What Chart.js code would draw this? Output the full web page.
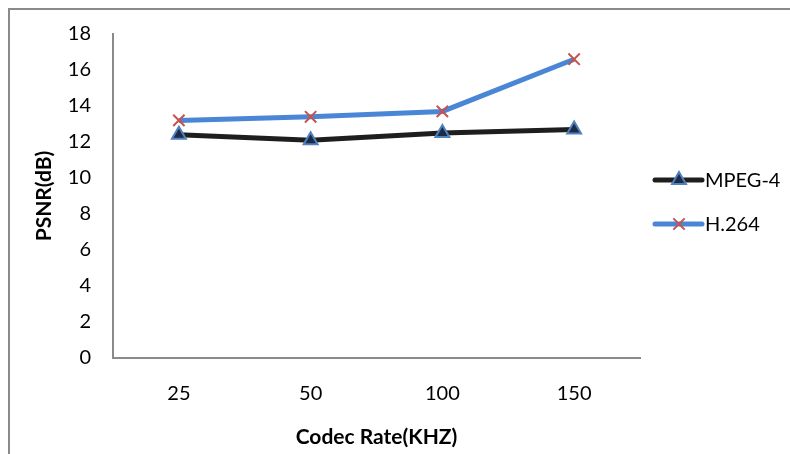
<!DOCTYPE html>
<html lang="en">
<head>
  <meta charset="UTF-8">
  <title>PSNR vs Codec Rate</title>
  <style>
    body {
      margin: 0;
      background: #fff;
      width: 790px;
      height: 454px;
      overflow: hidden;
      position: relative;
    }
    #frame {
      position: absolute;
      left: 8px;
      top: 8px;
      width: 800px;
      height: 460px;
      border-top: 2px solid #8a8a8a;
      border-left: 2px solid #8a8a8a;
    }
    #wrap {
      position: absolute;
      left: 0;
      top: 0;
      width: 790px;
      height: 454px;
    }
  </style>
  <script src="https://cdn.jsdelivr.net/npm/chart.js"></script>
</head>
<body>
  <div id="frame"></div>
  <div id="wrap"><canvas id="chartCanvas"></canvas></div>

  <script>
    const rates = ['25', '50', '100', '150'];
    const mpeg4 = [12.4, 12.1, 12.5, 12.7];
    const h264 = [13.2, 13.4, 13.7, 16.6];
    const yTicks = [0, 2, 4, 6, 8, 10, 12, 14, 16, 18];

    const FONT = 'Lato, "Open Sans", sans-serif';

    // excel-style legend: short line with the marker in the middle
    const sideLegend = {
      id: 'sideLegend',
      afterDraw(chart) {
        const ctx = chart.ctx;
        const rows = [180, 224];
        chart.data.datasets.forEach((ds, i) => {
          const y = rows[i];
          ctx.save();
          ctx.strokeStyle = ds.borderColor;
          ctx.lineWidth = ds.borderWidth;
          ctx.lineCap = 'round';
          ctx.beginPath();
          ctx.moveTo(655, y);
          ctx.lineTo(702, y);
          ctx.stroke();
          ctx.restore();
          ctx.save();
          ctx.fillStyle = ds.pointBackgroundColor;
          ctx.strokeStyle = ds.pointBorderColor;
          ctx.lineWidth = ds.pointBorderWidth;
          Chart.helpers.drawPoint(ctx, {
            pointStyle: ds.pointStyle,
            radius: ds.pointRadius,
            borderWidth: ds.pointBorderWidth,
            rotation: 0
          }, 679, y);
          ctx.restore();
          ctx.save();
          ctx.fillStyle = '#000';
          ctx.font = '20px ' + FONT;
          ctx.textBaseline = 'middle';
          ctx.fillText(ds.label, 705, y + 1);
          ctx.restore();
        });
      }
    };

    new Chart(document.getElementById('chartCanvas'), {
      type: 'line',
      data: {
        labels: rates,
        datasets: [{
          label: 'MPEG-4',
          data: mpeg4,
          borderColor: '#1e1e1e',
          borderWidth: 5,
          pointStyle: 'triangle',
          pointRadius: 8,
          pointHoverRadius: 8,
          pointBackgroundColor: '#1c2c48',
          pointBorderColor: '#4f81bd',
          pointBorderWidth: 2,
          tension: 0
        }, {
          label: 'H.264',
          data: h264,
          borderColor: '#4a86d6',
          borderWidth: 5,
          pointStyle: 'crossRot',
          pointRadius: 8,
          pointHoverRadius: 8,
          pointBackgroundColor: '#c0504d',
          pointBorderColor: '#c8504d',
          pointBorderWidth: 2,
          tension: 0
        }]
      },
      options: {
        responsive: true,
        maintainAspectRatio: false,
        animation: false,
        layout: {
          padding: { top: 33, right: 150, left: 0, bottom: 0 }
        },
        plugins: {
          legend: { display: false },
          tooltip: { enabled: false }
        },
        scales: {
          x: {
            offset: true,
            grid: { display: false, drawTicks: false },
            border: { display: true, color: '#8a8a8a', width: 2 },
            ticks: {
              color: '#000',
              padding: 24,
              font: { family: FONT, size: 20 }
            },
            title: {
              display: true,
              text: 'Codec Rate(KHZ)',
              color: '#000',
              font: { family: FONT, size: 21, weight: 'bold' },
              padding: { top: 0, bottom: 4 }
            },
            afterFit(scale) { scale.height = 96; }
          },
          y: {
            min: 0,
            max: 18,
            afterBuildTicks(scale) {
              scale.ticks = yTicks.map(v => ({ value: v }));
            },
            grid: { display: false, drawTicks: false },
            border: { display: true, color: '#8a8a8a', width: 2 },
            ticks: {
              color: '#000',
              padding: 22,
              font: { family: FONT, size: 20 }
            },
            title: {
              display: true,
              text: 'PSNR(dB)',
              color: '#000',
              font: { family: FONT, size: 21, weight: 'bold' },
              padding: { top: 32, bottom: 0 }
            },
            afterFit(scale) { scale.width = 113; }
          }
        }
      },
      plugins: [sideLegend]
    });
  </script>
</body>
</html>
